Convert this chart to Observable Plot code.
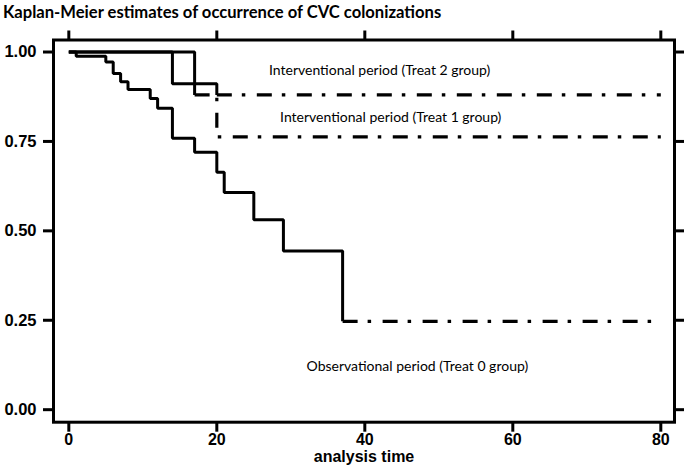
<!DOCTYPE html>
<html>
<head>
<meta charset="utf-8">
<script src="https://cdn.jsdelivr.net/npm/d3@7"></script>
<script src="https://cdn.jsdelivr.net/npm/@observablehq/plot@0.6"></script>
<style>
  html, body { margin: 0; padding: 0; background: #fff; }
  #title { height: 28px; line-height: 24px; padding-left: 3px; font-family: Lato, sans-serif; font-weight: bold; font-size: 16.6px; color: #000; white-space: nowrap; }
  svg { display: block; }
</style>
</head>
<body>
<div id="title">Kaplan-Meier estimates of occurrence of CVC colonizations</div>
<div id="chart"></div>
<script>
// Observational period (Treat 0 group)
const time0 = [0, 1, 5, 6, 7, 8, 11, 12, 14, 17, 20, 21, 25, 29, 37];
const surv0 = [1, 0.988, 0.972, 0.94, 0.917, 0.895, 0.87, 0.843, 0.759, 0.72, 0.664, 0.607, 0.531, 0.444, 0.247];
// Interventional period (Treat 1 group)
const time1 = [0, 17, 20];
const surv1 = [1, 0.88, 0.763];
// Interventional period (Treat 2 group)
const time2 = [0, 14, 20];
const surv2 = [1, 0.911, 0.88];
// time after which each curve is drawn dash-dot (censored tail)
const dashFrom = [37, 17, 20];
const endTime = 80;

const groupLabels = ["Observational period (Treat 0 group)", "Interventional period (Treat 1 group)", "Interventional period (Treat 2 group)"];
const labelX = [47.1, 43.5, 42.0];
const labelY = [0.122, 0.817, 0.948];

const xTicks = [0, 20, 40, 60, 80];
const yTicks = [0, 0.25, 0.5, 0.75, 1];

const groups = [[time0, surv0], [time1, surv1], [time2, surv2]];
const solid = [], dashed = [];
groups.forEach(([ts, ss], g) => {
  const cut = dashFrom[g];
  ts.forEach((t, i) => {
    if (t <= cut) solid.push({g, t, s: ss[i]});
    if (t >= cut) dashed.push({g, t, s: ss[i]});
  });
  dashed.push({g, t: endTime, s: ss[ss.length - 1]});
});
const labels = groupLabels.map((text, i) => ({text, x: labelX[i], y: labelY[i]}));

const tickFont = {fontFamily: "'Liberation Sans', Arial, sans-serif", fontWeight: "bold", fontSize: 16.5, fill: "#000"};

const chart = Plot.plot({
  width: 685,
  height: 437,
  marginLeft: 53,
  marginRight: 11,
  marginTop: 11.5,
  marginBottom: 43.3,
  x: {domain: [-2.07, 81.85]},
  y: {domain: [-0.035, 1.0336]},
  marks: [
    Plot.frame({stroke: "#000", strokeWidth: 3}),
    Plot.axisY(yTicks, {ticks: yTicks, tickFormat: d3.format(".2f"), tickSize: 10, tickPadding: 7, strokeWidth: 3, stroke: "#000", label: null, ...tickFont}),
    Plot.axisY(yTicks, {anchor: "right", ticks: yTicks, tickFormat: () => "", tickSize: 9, strokeWidth: 3, stroke: "#000", label: null}),
    Plot.axisX(xTicks, {ticks: xTicks, tickSize: 10, tickPadding: 1, strokeWidth: 3, stroke: "#000", label: "analysis time", labelAnchor: "center", labelArrow: "none", labelOffset: 39.5, ...tickFont, fontSize: 16}),
    Plot.axisX(xTicks, {anchor: "top", ticks: xTicks, tickFormat: () => "", tickSize: 10, strokeWidth: 3, stroke: "#000", label: null}),
    Plot.line(solid, {x: "t", y: "s", z: "g", curve: "step-after", stroke: "#000", strokeWidth: 3, strokeLinejoin: "miter", strokeLinecap: "butt"}),
    Plot.line(dashed, {x: "t", y: "s", z: "g", curve: "step-after", stroke: "#000", strokeWidth: 3.2, strokeDasharray: "15,10,3.5,11.5", strokeLinecap: "butt"}),
    Plot.text(labels, {x: "x", y: "y", text: "text", fontFamily: "Lato, sans-serif", fontSize: 14, fill: "#000"})
  ]
});
document.getElementById("chart").appendChild(chart);
</script>
</body>
</html>
